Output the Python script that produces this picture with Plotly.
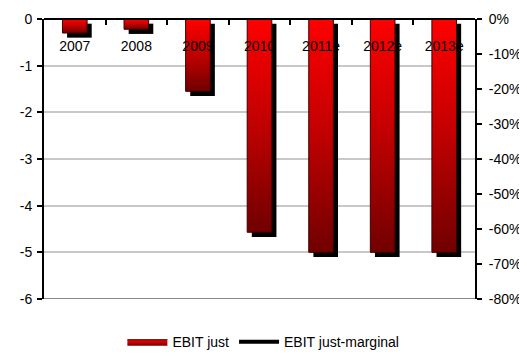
import plotly.graph_objects as go

# ---- data ----
categories = ["2007", "2008", "2009", "2010", "2011e", "2012e", "2013e"]
ebit_just = [-0.30, -0.22, -1.55, -4.57, -5.0, -5.0, -5.0]
# second series (secondary % axis) is not visible in the plot area, only in the legend
ebit_just_marginal = [None, None, None, None, None, None, None]

left_tick_vals = [0, -1, -2, -3, -4, -5, -6]
left_tick_text = ["0", "-1", "-2", "-3", "-4", "-5", "-6"]
right_tick_vals = [0, -0.1, -0.2, -0.3, -0.4, -0.5, -0.6, -0.7, -0.8]
right_tick_text = ["0%", "-10%", "-20%", "-30%", "-40%", "-50%", "-60%", "-70%", "-80%"]

# ---- style ----
FONT = "Liberation Sans, Arial, sans-serif"
BAR_W = 0.40
SH_DX = 0.075   # shadow offset in category units (~5px)
SH_DY = 0.100   # shadow offset in value units (~5px)

x_idx = list(range(len(categories)))

fig = go.Figure()

# shadows
fig.add_trace(go.Bar(
    x=[i + SH_DX for i in x_idx], y=ebit_just, base=[-SH_DY] * len(ebit_just),
    width=BAR_W, marker=dict(color="black", line=dict(width=0)),
    showlegend=False, hoverinfo="skip"))

# gradient bars
for i, v in zip(x_idx, ebit_just):
    fig.add_trace(go.Scatter(
        x=[i - BAR_W / 2, i + BAR_W / 2, i + BAR_W / 2, i - BAR_W / 2, i - BAR_W / 2],
        y=[0, 0, v, v, 0],
        mode="lines", fill="toself",
        line=dict(color="#3a0000", width=1),
        fillgradient=dict(type="vertical",
                          colorscale=[[0, "#700000"], [0.5, "#c00000"], [1, "#ff0000"]]),
        name="EBIT just", showlegend=(i == 0),
        hoverinfo="skip"))

fig.add_trace(go.Scatter(
    x=x_idx, y=ebit_just_marginal, yaxis="y2", mode="lines",
    line=dict(color="black", width=4), name="EBIT just-marginal",
    showlegend=True))

# the page body adds an 8px margin on the left and top, so the figure is 8px smaller
fig.update_layout(
    width=519, height=354,
    margin=dict(l=36, r=52, t=11, b=63, autoexpand=False),
    paper_bgcolor="white", plot_bgcolor="white",
    font=dict(family=FONT, size=14, color="black"),
    barmode="overlay",
    xaxis=dict(
        range=[-0.5, len(categories) - 0.5],
        tickvals=x_idx, ticktext=categories, tickangle=0,
        anchor="free", position=1, side="bottom",
        ticks="", ticklabelstandoff=14,
        showline=True, linecolor="black", linewidth=2,
        showgrid=False, zeroline=False,
        minor=dict(tickvals=[i + 0.5 for i in x_idx[:-1]], ticks="outside",
                   ticklen=5, tickwidth=2, tickcolor="black", showgrid=False),
    ),
    yaxis=dict(
        range=[-6, 0], tickvals=left_tick_vals, ticktext=left_tick_text,
        ticks="outside", ticklen=5, tickwidth=2, tickcolor="black",
        showline=True, linecolor="black", linewidth=2,
        showgrid=True, gridcolor="#c8c8c8", gridwidth=2,
        zeroline=False, ticklabelstandoff=2,
    ),
    yaxis2=dict(
        range=[-0.8, 0], tickvals=right_tick_vals, ticktext=right_tick_text,
        overlaying="y", side="right", anchor="x",
        ticks="outside", ticklen=5, tickwidth=2, tickcolor="black",
        showline=True, linecolor="black", linewidth=2,
        showgrid=False, zeroline=False, ticklabelstandoff=4,
    ),
    legend=dict(orientation="h", x=0.509, xanchor="center",
                yref="container", y=0.011, yanchor="bottom", font=dict(size=14),
                itemwidth=40, tracegroupgap=0, traceorder="normal",
                bgcolor="rgba(0,0,0,0)"),
    shapes=[dict(type="line", xref="paper", yref="y", x0=0, x1=1, y0=-6, y1=-6,
                 line=dict(color="#888888", width=2), layer="above")],
)

fig.write_html("out.html")
